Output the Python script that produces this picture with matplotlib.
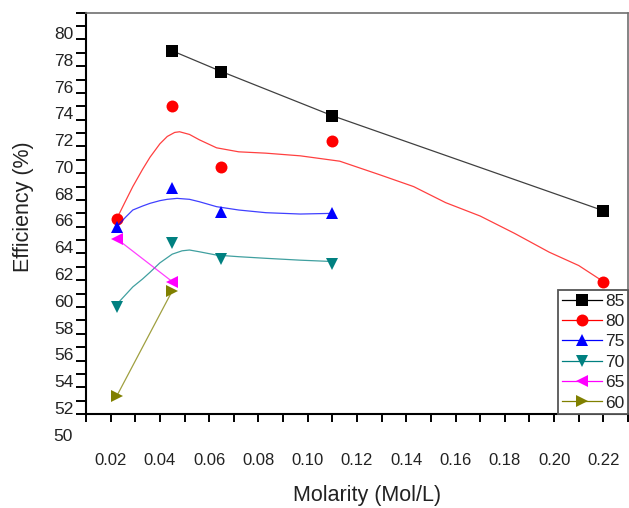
import matplotlib.pyplot as plt
from matplotlib.lines import Line2D
from matplotlib.ticker import MultipleLocator, FormatStrFormatter
from matplotlib.transforms import ScaledTranslation

plt.rcParams['font.family'] = ['Liberation Sans', 'DejaVu Sans']

# measured points (molarity, efficiency) for each series
x85 = [0.045, 0.065, 0.11, 0.22]
y85 = [79.15, 77.6, 74.3, 67.2]
x80 = [0.0225, 0.045, 0.065, 0.11, 0.22]
y80 = [66.6, 75.0, 70.5, 72.4, 61.9]
x75 = [0.0225, 0.045, 0.065, 0.11]
y75 = [66.0, 68.9, 67.1, 67.0]
x70 = [0.0225, 0.045, 0.065, 0.11]
y70 = [60.0, 64.8, 63.6, 63.2]
x65 = [0.0225, 0.045]
y65 = [65.1, 61.9]
x60 = [0.0225, 0.045]
y60 = [53.35, 61.2]

# fitted curves
cx80 = [0.0225, 0.026, 0.029, 0.033, 0.036, 0.040, 0.043, 0.046, 0.048, 0.052, 0.056,
        0.063, 0.072, 0.083, 0.097, 0.113, 0.129, 0.143, 0.156, 0.170, 0.184,
        0.198, 0.210, 0.220]
cy80 = [66.6, 67.9, 69.0, 70.3, 71.2, 72.2, 72.75, 73.05, 73.1, 72.9, 72.5,
        71.9, 71.6, 71.5, 71.3, 70.9, 69.9, 69.0, 67.8, 66.8, 65.5,
        64.1, 63.1, 61.9]
cx75 = [0.0225, 0.026, 0.029, 0.033, 0.036, 0.040, 0.043, 0.047, 0.052, 0.056,
        0.063, 0.072, 0.083, 0.097, 0.11]
cy75 = [66.0, 66.7, 67.25, 67.55, 67.75, 67.95, 68.05, 68.12, 68.05, 67.87,
        67.5, 67.25, 67.05, 66.95, 67.0]
cx70 = [0.0225, 0.026, 0.029, 0.033, 0.036, 0.040, 0.045, 0.049, 0.052, 0.056,
        0.063, 0.072, 0.083, 0.097, 0.11]
cy70 = [60.2, 60.9, 61.5, 62.1, 62.6, 63.3, 63.95, 64.2, 64.26, 64.13,
        63.88, 63.76, 63.64, 63.5, 63.4]

labels = ['85', '80', '75', '70', '65', '60']
colors = ['#000000', '#ff0000', '#0000ff', '#008080', '#ff00ff', '#808000']
markers = ['s', 'o', '^', 'v', '<', '>']
sizes = [8.4, 8.6, 8.0, 8.0, 8.0, 8.0]

pts = [(x85, y85), (x80, y80), (x75, y75), (x70, y70), (x65, y65), (x60, y60)]
curves = [(x85, y85), (cx80, cy80), (cx75, cy75), (cx70, cy70), (x65, y65), (x60, y60)]

fig = plt.figure(figsize=(6.29, 5.08), dpi=100)
ax = fig.add_axes([0.1367, 0.185, 0.8617, 0.790])

handles = []
for (px, py), (lx, ly), c, m, s, lab in zip(pts, curves, colors, markers, sizes, labels):
    ax.plot(lx, ly, color=c, lw=0.9, alpha=0.75)
    ax.plot(px, py, ls='none', marker=m, ms=s, color=c, mew=0)
    handles.append(Line2D([], [], color=c, lw=0.9, marker=m, ms=s, mew=0))

ax.set_xlim(0.01, 0.23)
ax.set_ylim(52, 82)

ax.xaxis.set_major_locator(MultipleLocator(0.02))
ax.xaxis.set_minor_locator(MultipleLocator(0.01))
ax.xaxis.set_major_formatter(FormatStrFormatter('%.2f'))
ax.set_yticks(range(52, 81, 2))
ax.yaxis.set_minor_locator(MultipleLocator(1))

ax.tick_params(axis='x', which='both', direction='out', length=5.8, width=1.4,
               pad=22, labelsize=12, labelcolor='#222222')
ax.tick_params(axis='y', which='both', direction='out', length=7.2, width=1.4,
               pad=2, labelsize=12.5, labelcolor='#222222')
ax.tick_params(top=False, right=False)

# Origin places the y labels a little above their ticks
shift = ScaledTranslation(0, 4.5 / 72, fig.dpi_scale_trans)
for t in ax.get_yticklabels():
    t.set_transform(t.get_transform() + shift)
ax.text(0, 50, '50', transform=ax.get_yaxis_transform() + shift +
        ScaledTranslation(-9.4 / 72, 0, fig.dpi_scale_trans),
        ha='right', va='center_baseline', fontsize=12.5, color='#222222', clip_on=False)

for side in ['left', 'bottom']:
    ax.spines[side].set_linewidth(1.5)
    ax.spines[side].set_color('black')
for side in ['top', 'right']:
    ax.spines[side].set_linewidth(1.2)
    ax.spines[side].set_color('#707070')

ax.set_xlabel('Molarity (Mol/L)', fontsize=15.5, color='#222222', va='center')
ax.set_ylabel('Efficiency (%)', fontsize=15.5, color='#222222', va='center')
ax.xaxis.set_label_coords(0.518, -0.203)
ax.yaxis.set_label_coords(-0.116, 0.517)

leg = ax.legend(handles, labels, loc='lower right', bbox_to_anchor=(1.0, 0.0),
                fontsize=12.5, handlelength=2.3, handletextpad=0.2, labelspacing=0.3,
                borderpad=0.2, borderaxespad=0, fancybox=False, framealpha=1)
leg.get_frame().set_edgecolor('#555555')
leg.get_frame().set_linewidth(1.3)
for t in leg.get_texts():
    t.set_color('#222222')

fig.savefig('out.png', dpi=100)
